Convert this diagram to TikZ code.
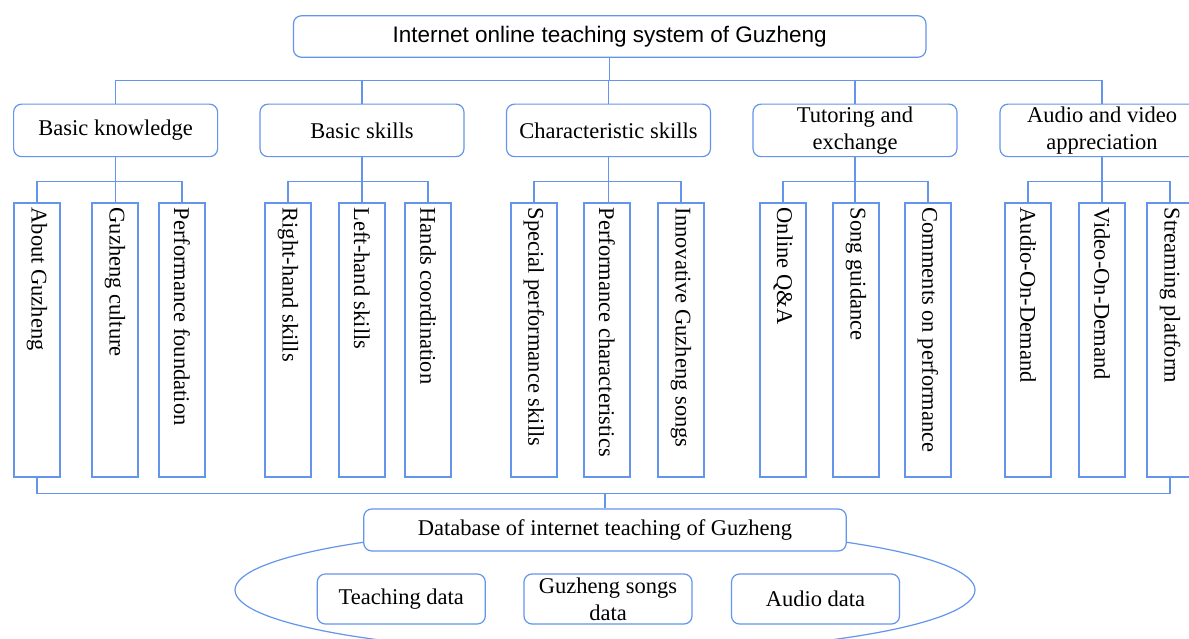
\documentclass[tikz,border=0pt]{standalone}
\usepackage{fontspec}
\setmainfont{Liberation Serif}
\newfontfamily\arialf{Liberation Sans}
\definecolor{ln}{RGB}{100,149,237}
\begin{document}
\begin{tikzpicture}[x=1pt,y=-1pt,
  lk/.style={draw=ln, line width=1.2pt},
  rbox/.style={draw=ln, fill=white, rounded corners=8pt, line width=1.2pt, inner sep=0pt,
    font=\fontsize{22.5}{27}\selectfont, align=center},
  l1box/.style={rbox, minimum width=204pt, minimum height=52.5pt},
  dbox/.style={rbox, minimum width=168pt, minimum height=50pt},
  vbox/.style={draw=ln, fill=white, line width=1.2pt, minimum width=46pt, minimum height=274pt, inner sep=0pt},
  vtxt/.style={rotate=-90, anchor=west, font=\fontsize{22.5}{27}\selectfont, inner sep=0pt}]
\useasboundingbox (0,0) rectangle (1189,639);
\clip (0,0) rectangle (1189,639);
\fill[white] (0,0) rectangle (1189,639);

% top
\node[rbox, font=\arialf\fontsize{22.5}{27}\selectfont, minimum width=632.5pt, minimum height=41.5pt] (top) at (609.7,36.5) {Internet online teaching system of Guzheng};

% level 1
\node[l1box] (bk) at (115.6,130.4) {Basic knowledge};
\node[l1box] (bs) at (362,130.4) {Basic skills};
\node[l1box] (cs) at (608.5,130.4) {Characteristic skills};
\node[l1box] (te) at (855,130.4) {Tutoring and\\exchange};
\node[l1box] (av) at (1102,130.4) {Audio and video\\appreciation};

% level 2 boxes
\foreach \n/\x in {bk1/37,bk2/115,bk3/182,bs1/288,bs2/362,bs3/428,cs1/534,cs2/607,cs3/681,te1/783,te2/856,te3/928,av1/1028,av2/1102,av3/1170}{
  \node[vbox] (\n) at (\x,340) {};
}
\foreach \n/\t in {bk1/About Guzheng,bk2/Guzheng culture,bk3/Performance foundation,
  bs1/Right-hand skills,bs2/Left-hand skills,bs3/Hands coordination,
  cs1/Special performance skills,cs2/Performance characteristics,cs3/Innovative Guzheng songs,
  te1/Online Q\&A,te2/Song guidance,te3/Comments on performance,
  av1/Audio-On-Demand,av2/Video-On-Demand,av3/Streaming platform}{
  \node[vtxt] (\n t) at ([yshift=-5pt]\n.north) {\t};
}

% top connectors
\draw[lk] (top.south) -- ++(0,23) coordinate (tj);
\draw[lk] (bk.north) |- (tj) -| (av.north);
\foreach \p in {bs,cs,te}{\draw[lk] (\p.north) -- (\p.north |- tj);}

% level1 -> level2
\foreach \p in {bk,bs,cs,te,av}{
  \draw[lk] (\p.south) -- (\p.south |- \p2.north);
  \path (\p.south) ++(0,24.5) coordinate (\p j);
  \draw[lk] (\p1.north) |- (\p j) -| (\p3.north);
}

% bottom bus
\draw[lk] (bk1.south) -- ++(0,16) coordinate (bj) -| (av3.south);

% database
\draw[lk] (605,590) ellipse [x radius=370pt, y radius=63pt];
\node[rbox, minimum width=482.5pt, minimum height=42pt] (db) at (605,530) {Database of internet teaching of Guzheng};
\draw[lk] (db.north) -- (db.north |- bj);
\node[dbox] (d1) at (401.3,599) {Teaching data};
\node[dbox] (d2) at (608,599) {Guzheng songs\\data};
\node[dbox] (d3) at (815.5,599) {Audio data};
\end{tikzpicture}
\end{document}
